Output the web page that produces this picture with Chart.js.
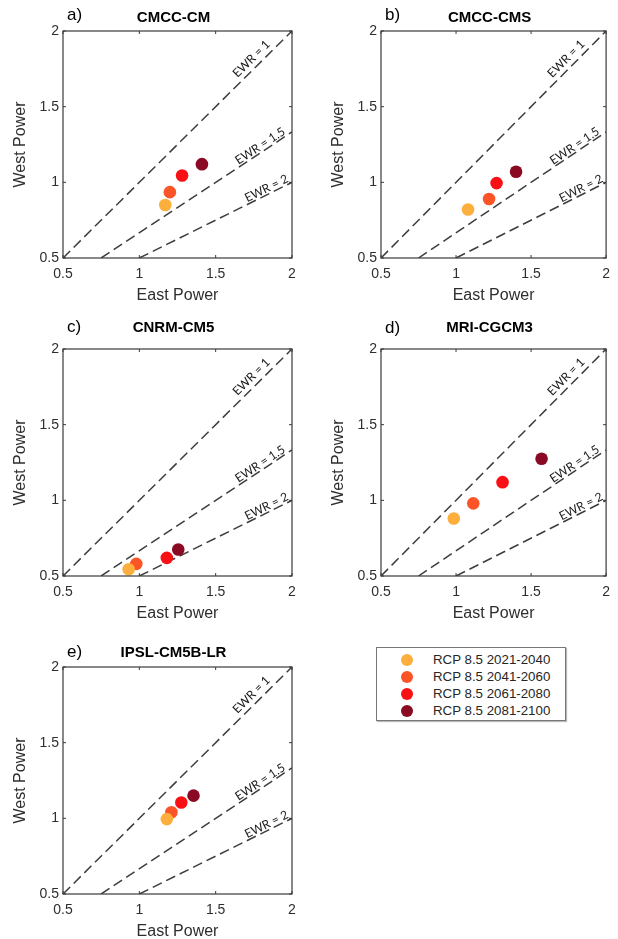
<!DOCTYPE html>
<html>
<head>
<meta charset="utf-8">
<script src="https://cdn.jsdelivr.net/npm/chart.js@4.4.1/dist/chart.umd.min.js"></script>
<style>
  html, body { margin: 0; padding: 0; background: #fff; overflow: hidden; }
  body { width: 618px; height: 939px; position: relative; font-family: "Liberation Sans", Arial, sans-serif; }
  canvas { position: absolute; }
  #legend { position: absolute; left: 376px; top: 647px; width: 190px; height: 74px; border: 1px solid #777;
            box-shadow: 1px 1px 1px #bbb; box-sizing: border-box; padding-top: 3px; }
  #legend div { height: 17px; line-height: 17px; font-size: 13.3px; color: #262626; position: relative; padding-left: 56px; }
  #legend span { position: absolute; left: 24px; top: 2.5px; width: 12px; height: 12px; border-radius: 50%; }
</style>
</head>
<body>
<canvas id="p0" width="309" height="318" style="left:0;top:0"></canvas>
<canvas id="p1" width="300" height="318" style="left:318px;top:0"></canvas>
<canvas id="p2" width="309" height="318" style="left:0;top:318px"></canvas>
<canvas id="p3" width="300" height="318" style="left:318px;top:318px"></canvas>
<canvas id="p4" width="309" height="318" style="left:0;top:636px"></canvas>
<div id="legend"></div>
<script>
const tickValues = [0.5, 1, 1.5, 2];
const tickLabels = ["0.5", "1", "1.5", "2"];
const periods = ["RCP 8.5 2021-2040", "RCP 8.5 2041-2060", "RCP 8.5 2061-2080", "RCP 8.5 2081-2100"];
const periodColors = ["#FDAF3E", "#FB5427", "#F81014", "#8A0A24"];
const models = ["CMCC-CM", "CMCC-CMS", "CNRM-CM5", "MRI-CGCM3", "IPSL-CM5B-LR"];
const panelLetters = ["a)", "b)", "c)", "d)", "e)"];

const eastCMCCCM = [1.17, 1.20, 1.28, 1.41];
const westCMCCCM = [0.85, 0.935, 1.045, 1.12];
const eastCMCCCMS = [1.08, 1.22, 1.27, 1.40];
const westCMCCCMS = [0.82, 0.89, 0.995, 1.07];
const eastCNRM = [0.93, 0.98, 1.18, 1.255];
const westCNRM = [0.545, 0.58, 0.62, 0.675];
const eastMRI = [0.985, 1.115, 1.31, 1.57];
const westMRI = [0.88, 0.98, 1.12, 1.275];
const eastIPSL = [1.18, 1.21, 1.275, 1.355];
const westIPSL = [0.995, 1.04, 1.105, 1.15];

const ewrLabels = ["EWR = 1", "EWR = 1.5", "EWR = 2"];
const ewrStartX = [0.5, 0.75, 1];
const ewrStartY = [0.5, 0.5, 0.5];
const ewrEndX = [2, 2, 2];
const ewrEndY = [2, 1.333, 1];

const eastSets = [eastCMCCCM, eastCMCCCMS, eastCNRM, eastMRI, eastIPSL];
const westSets = [westCMCCCM, westCMCCCMS, westCNRM, westMRI, westIPSL];

// per panel text placement (canvas px)
const titleY = [18, 18, 10, 10, 17];
const letterY = [15, 15, 9, 10, 16];
const padRight = [17, 8, 17, 8, 17];
const labelOffset = [9, 6, 6];

const ink = "#2e2e2e";

const framePlugin = {
  id: "frame",
  afterDatasetsDraw(chart, args, opts) {
    const ctx = chart.ctx;
    const n = periods.length;
    ctx.save();
    ctx.font = "12px Lato, 'Open Sans', sans-serif";
    ctx.fillStyle = "#1a1a1a";
    ctx.textAlign = "center";
    ctx.textBaseline = "alphabetic";
    ewrLabels.forEach((lab, i) => {
      const pts = chart.getDatasetMeta(n + i).data;
      const p0 = pts[0], p1 = pts[1];
      const ang = Math.atan2(p1.y - p0.y, p1.x - p0.x);
      const t = 0.85;
      const cx = p0.x + (p1.x - p0.x) * t, cy = p0.y + (p1.y - p0.y) * t;
      ctx.save();
      ctx.translate(cx, cy);
      ctx.rotate(ang);
      ctx.fillText(lab, 0, -labelOffset[i] + 4);
      ctx.restore();
    });
    ctx.restore();
  },
  afterDraw(chart, args, opts) {
    const { ctx, chartArea: a, scales } = chart;
    ctx.save();
    ctx.strokeStyle = "#3a3a3a";
    ctx.lineWidth = 1.2;
    ctx.strokeRect(a.left, a.top, a.right - a.left, a.bottom - a.top);
    ctx.lineWidth = 1;
    ctx.beginPath();
    scales.x.ticks.forEach(tk => {
      const x = scales.x.getPixelForValue(tk.value);
      ctx.moveTo(x, a.bottom); ctx.lineTo(x, a.bottom - 3);
      ctx.moveTo(x, a.top); ctx.lineTo(x, a.top + 3);
    });
    scales.y.ticks.forEach(tk => {
      const y = scales.y.getPixelForValue(tk.value);
      ctx.moveTo(a.left, y); ctx.lineTo(a.left + 3, y);
      ctx.moveTo(a.right, y); ctx.lineTo(a.right - 3, y);
    });
    ctx.stroke();
    ctx.fillStyle = "#000";
    ctx.textBaseline = "middle";
    ctx.textAlign = "left";
    ctx.font = "17px 'Liberation Sans', Arial, sans-serif";
    ctx.fillText(opts.letter, a.left + 4, opts.letterY);
    ctx.textAlign = "center";
    ctx.font = "bold 15px 'Liberation Sans', Arial, sans-serif";
    ctx.fillText(opts.title, (a.left + a.right) / 2 - 4, opts.titleY);
    ctx.restore();
  }
};

function axis(titleText, isX) {
  return {
    type: "linear",
    min: 0.5,
    max: 2,
    afterBuildTicks: s => { s.ticks = tickValues.map(v => ({ value: v })); },
    afterFit: s => { if (isX) s.height = 52; else s.width = 63; },
    grid: { display: false, drawTicks: false },
    border: { display: false },
    ticks: {
      color: ink,
      padding: isX ? 8 : 4,
      font: { family: "'Liberation Sans', Arial, sans-serif", size: 14 },
      callback: v => tickLabels[tickValues.indexOf(v)]
    },
    title: {
      display: true,
      text: titleText,
      color: ink,
      font: { family: "'Liberation Sans', Arial, sans-serif", size: 16 },
      padding: isX ? { bottom: 5, top: 0 } : { top: 11, bottom: 0 }
    }
  };
}

models.forEach((model, m) => {
  const datasets = periods.map((p, k) => ({
    label: p,
    data: [{ x: eastSets[m][k], y: westSets[m][k] }],
    backgroundColor: periodColors[k],
    borderColor: periodColors[k],
    pointRadius: 6.3,
    pointBorderWidth: 0
  }));
  ewrLabels.forEach((lab, i) => {
    datasets.push({
      label: lab,
      data: [{ x: ewrStartX[i], y: ewrStartY[i] }, { x: ewrEndX[i], y: ewrEndY[i] }],
      showLine: true,
      borderColor: "#3d3d3d",
      borderWidth: 1.5,
      borderDash: [10, 5],
      pointRadius: 0,
      fill: false
    });
  });
  new Chart(document.getElementById("p" + m), {
    type: "scatter",
    data: { datasets },
    options: {
      responsive: false,
      animation: false,
      devicePixelRatio: 1,
      layout: { padding: { left: 0, top: 31, right: padRight[m], bottom: 8 } },
      plugins: {
        legend: { display: false },
        tooltip: { enabled: false },
        frame: { letter: panelLetters[m], title: model, titleY: titleY[m], letterY: letterY[m] }
      },
      scales: { x: axis("East Power", true), y: axis("West Power", false) }
    },
    plugins: [framePlugin]
  });
});

document.getElementById("legend").innerHTML = periods
  .map((p, k) => `<div><span style="background:${periodColors[k]}"></span>${p}</div>`)
  .join("");
</script>
</body>
</html>
